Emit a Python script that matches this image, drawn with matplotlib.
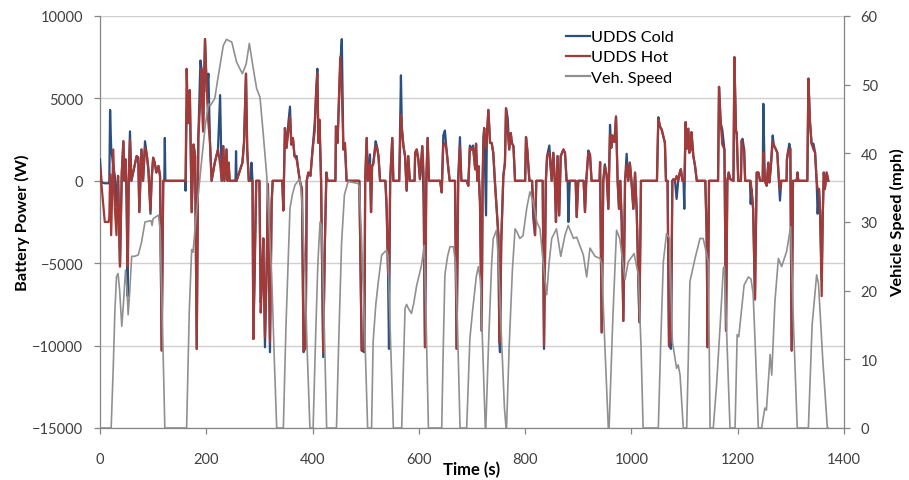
import matplotlib
matplotlib.use("Agg")
import matplotlib.pyplot as plt
from matplotlib.lines import Line2D

plt.rcParams['font.family'] = ['Lato', 'DejaVu Sans']

# Battery power samples: time (s), UDDS hot (W), UDDS cold (W)
power_time = [
    0, 3, 9, 16, 17.5, 19, 21, 25, 28, 31, 34, 37.6, 41, 44, 46, 48, 50, 52, 54, 56.4, 59,
    69, 72, 74, 78, 81, 84.7, 88, 91, 95, 97, 100, 103, 106, 110, 113, 116, 119, 121, 122, 123,
    160, 161, 163, 166, 169, 172.5, 176, 179, 182, 185, 189, 191, 194, 197.6, 201, 204, 207,
    210, 216, 222, 226, 229, 232, 234, 238, 240, 242, 244, 255, 256, 257, 268, 271, 274.7,
    277, 280, 284, 285, 287, 288.5, 291, 294, 300, 302.4, 305, 307.3, 310.4, 313.6, 316,
    319.8, 323, 325, 343, 345, 348, 351, 354.4, 357.5, 360, 363, 366, 370, 373, 376, 380,
    383, 387, 389, 392, 396, 400, 404, 407, 409, 411, 413, 416, 420, 423, 426, 428, 443,
    444, 447, 452, 455, 458, 461, 464, 488, 492.4, 497.4, 499, 501.8, 504, 508, 510, 512,
    514, 518.7, 521, 524, 527, 537, 539.4, 542, 543.8, 546, 550, 552, 563, 566.3, 568, 571,
    574, 577, 580, 583, 592, 593, 596, 599, 602, 606.5, 609, 611.5, 614, 616.5, 619, 640,
    643, 646, 649, 652, 655, 658, 668, 671, 674, 677.3, 680, 690, 693, 696, 699, 702, 706,
    707.6, 710, 712, 715, 718.2, 720, 721.4, 723, 726.4, 728, 730.8, 734, 737, 740, 743,
    746.5, 749.6, 751.5, 752.7, 755, 759, 762, 764, 767.2, 770, 773, 775, 778, 781, 800,
    801.6, 804, 808, 813, 815.4, 818.6, 821, 833, 835.5, 839, 841.3, 845.5, 850, 853, 856,
    858, 861, 864, 867, 872, 875, 878, 880, 881.3, 884, 895, 897, 900, 910, 912.6, 915,
    918.9, 922, 925, 940, 941, 944, 947, 950, 953.5, 956.6, 959.7, 962, 964, 968, 971, 974,
    976.6, 979, 981.7, 984.8, 988, 991, 994, 997, 1000, 1003.6, 1006.8, 1010, 1013, 1015,
    1018, 1048, 1050.6, 1053.7, 1057, 1060, 1063, 1065, 1068, 1070.7, 1074.5, 1077, 1079,
    1082, 1085, 1088, 1091, 1093, 1096, 1098, 1099.5, 1102, 1104, 1107, 1109, 1111.5, 1113,
    1116.5, 1119.7, 1123, 1139, 1141.5, 1143.4, 1146, 1163, 1164.8, 1168, 1171, 1175, 1178,
    1180.5, 1183, 1186, 1192, 1193.7, 1196.8, 1198, 1201, 1206, 1207.5, 1209, 1212, 1214,
    1223, 1224.4, 1226, 1229, 1232.5, 1235.7, 1239, 1242, 1247, 1248.2, 1251, 1254.5,
    1257.6, 1259.5, 1262, 1265.8, 1268, 1272, 1274.5, 1277, 1279.5, 1282, 1292, 1292.6,
    1295.3, 1297, 1299, 1301.5, 1304, 1311, 1312.5, 1314, 1331, 1333, 1336, 1339, 1342.5,
    1345.6, 1348.5, 1350.4, 1353, 1355, 1358, 1360, 1362, 1364, 1367.4, 1370.5,
]

hot_w = [
    800, -300, -2500, -2500, -2200, 400, -3300, 1900, -1700, -3300, 300, -5200, 500, 2400, 0, 1300, -1000, -5200, 0, 2500, 0,
    1500, 1400, -1900, 1900, 0, 2000, 1600, 700, -1800, 0, 1400, 1100, 500, 900, 300, -10300, 0, 0, 0, 0,
    0, 0, 6800, 3500, 5500, -1900, 2200, 1500, -10200, 2600, 5000, 6800, 3000, 8600, 5400, 3500, 2300,
    0, 1100, 1900, 1000, 0, 2100, 0, 1900, 0, 1100, 0, 0, 0, 0, 1100, 2300, 6500,
    1900, 0, 0, 0, 0, -9600, -5000, 0, 0, -8000, -6000, -3500, -9500, -5300, -200,
    -9800, -1300, 0, 0, -1800, 3200, 2000, 3000, 3900, 2200, 2600, 1500, 1300, 700, 0, -500,
    -10300, -10100, 0, 500, 300, 1900, 3000, 5600, 6500, 2300, 3700, 0, -10400, -4000, 500, 0, 0,
    3300, 2300, 7500, 5500, 1900, 2300, 0, 0, -10300, -10200, 0, 2600, 0, 1000, -1900, 900,
    1000, 2100, 2100, 1500, 0, 0, -1500, -5500, -5700, 0, 2600, 0, 0, 4000, 3200, 2100,
    1500, -600, 1500, 0, 0, 1700, 1900, 1300, 100, 2100, 500, -10100, 0, 2600, 0, 0,
    -700, 2200, 2300, 1900, 900, 0, 0, -10200, 0, 2100, 0, 0, -300, 2000, 1900, 2000, 700,
    2250, 0, 900, -1300, -9100, 0, 2000, 3200, 2000, 2700, 4300, 2300, 2300, 1700, 0,
    -1700, -3300, -9800, -9800, -3700, 300, 1100, 4400, 3000, 1900, 2900, 2300, 2100, 0, 0,
    2650, 1900, 0, 0, -1500, -3300, 0, 0, -10000, 0, 1500, 1700, 0, 1700, -100,
    -2500, 1500, -2100, 1500, 1900, 1700, 0, 0, 0, 0, 0, -2200, 0, 0, -1900, 0,
    1700, 1600, 0, 0, 1130, -9200, 0, 900, 300, -1700, 2800, 2000, 2750, 2350, 3900, 0,
    -1700, 0, -2500, -8500, 0, 1000, 0, 1100, 0, -1700, 500, -1900, -6000, -8500,
    0, 0, 3760, 3300, 3100, 2700, 2300, 0, 0, -10000, -9000, 0, 100,
    0, 300, 0, 500, 700, 0, 0, 0, 3560, 1940, 3160, 1700, 1900, 2950,
    1500, 900, 0, 0, -3100, -10100, 0, 0, 5700, 3500, 2200, 1900, -9100,
    0, 500, 100, 0, 7500, 2950, 2950, 0, 0, 2450, 2000, 1940, 0,
    0, 0, -500, -1700, -7200, 500, 500, 0, 0, 1700, 0, -300,
    1100, -100, 700, 2350, 2150, 1900, 1700, 300, -500, 0, 0, 1300,
    1900, 1900, 1940, -10300, 0, 0, 500, 0, 0, 6200, 3560, 2250, 1900,
    1700, 0, -500, -500, -1900, -7000, -2100, 500, -500, 500, 0,
]

cold_w = [
    1300, -100, -150, -150, -100, 4300, 2000, 900, 300, -1500, 300, -5200, 500, 2400, 0, 1300, -1000, -7000, 0, 3000, 0,
    1500, 1400, -1900, 1900, 0, 2400, 1600, 700, -2000, 0, 1400, 1100, 500, 900, 300, -10300, 0, 0, 2600, 0,
    0, -600, 4200, 3500, 5500, -1900, 2200, 1500, -10200, 2600, 7300, 6800, 3000, 8600, 5400, 6500, 2300,
    0, 1100, 1900, 5200, 0, 2100, 0, 1900, 0, 1100, 0, 0, 1800, 0, 1100, 2300, 6500,
    1900, 0, 0, 1100, 0, -9600, -5900, 0, 0, -7400, -6000, -3500, -10100, -5300, -200,
    -10400, -1300, 0, 0, -1800, 3200, 2000, 3500, 4500, 2200, 2600, 1500, 1500, 700, 0, -500,
    -10400, -10100, 0, 500, 300, 1900, 3500, 5600, 6800, 2300, 3700, 0, -10700, -4000, 500, 0, 0,
    3300, 2300, 7000, 8600, 1900, 2100, 0, 0, -10300, -10400, 0, 2600, 0, 1600, -1900, 900,
    1000, 2400, 2100, 1500, 0, 0, -1800, -5500, -10200, 0, 2600, 0, 0, 6400, 3200, 2100,
    1500, -600, 1500, 0, 0, 1700, 1900, 1300, 100, 2100, -1500, -10100, 0, 2600, 0, 0,
    -700, 2750, 3050, 1900, 900, 0, 0, -10200, 0, 2650, 0, 0, -300, 2140, 1900, 2140, 700,
    2250, 0, 900, -1300, -9100, 0, 2650, 3200, -2100, 2700, 4300, 2300, 2300, 1700, 0,
    -1700, -3300, -9800, -10400, -3700, 300, 1100, 4400, 3800, 1900, 2900, 2300, 2100, 0, 0,
    2650, 1900, 0, 0, -2300, -3300, 0, 0, -10200, 0, 1500, 2140, 0, 1700, -100,
    -2500, 1500, -2100, 1500, 1900, 1700, 0, 0, -2500, 0, 0, -2200, 0, 0, -1900, 0,
    1840, 1600, 0, 0, 1130, -9200, 0, 1000, 300, -1700, 3400, 2000, 2750, 2350, 3900, 0,
    -1700, 0, -2500, -8500, 0, 1640, 0, 1100, 0, -1700, 500, -1900, -6000, -8600,
    0, 0, 3860, 3300, 3100, 2700, 2300, 0, 0, -10000, -10200, 0, 100,
    0, -1100, 0, 500, 700, 0, 0, -1700, 3560, 1940, 3160, 1700, 1900, 2950,
    1500, 900, 0, 0, -3100, -10100, 0, 0, 5700, 3500, 3100, 1900, -9100,
    0, 500, 100, 0, 7500, 2950, 2950, 0, 0, 2450, 2550, 1940, 0,
    0, -1400, -500, -1700, -7200, 500, 500, 0, 0, 4670, 0, -300,
    1100, -100, 700, 2750, 2150, 1900, 1700, 300, -1200, 0, 0, 1300,
    1900, 2250, 1940, -10300, 0, 0, 500, 0, 0, 6200, 3560, 2250, 2250,
    1700, 0, -2000, -500, -1900, -6000, -2100, 500, -500, 500, 0,
]

# Vehicle speed trace: time (s), speed (mph)
speed_time = [
    0, 21, 25, 28, 31, 34, 37, 41, 44, 48, 51, 53, 56, 59.6, 65, 72, 78, 84.7, 96, 98, 100,
    110, 113, 117, 122, 163, 168, 172.5, 175, 180, 190, 198, 204, 208, 216, 222, 232, 238,
    248, 257, 262, 268, 275, 281, 285, 288.5, 294.8, 301, 307, 313.7, 323, 328, 332.5, 345,
    350, 357.5, 362, 367, 376, 380, 385.8, 390, 395, 401, 406, 410, 414, 417, 421, 426.5,
    445, 449, 454.6, 460, 467, 486, 488, 492, 498.7, 503.6, 511, 514, 519, 523.7, 530,
    539.5, 542, 547, 552, 567.7, 572, 574, 577, 581, 586, 590, 596, 605, 610, 613, 618, 643,
    646, 649, 654, 658.6, 665, 669, 672, 677.5, 690, 696, 701, 708, 712, 716, 720, 725,
    726, 731, 737, 740, 746, 750, 755, 761, 764, 765, 770, 776, 781, 785, 790, 796, 803,
    809, 815, 822, 828, 834, 840.6, 845, 850, 859, 867, 875, 881, 891, 897, 909.5, 915.8,
    922, 931.5, 941, 944, 950, 956.5, 958, 965, 972, 978, 988, 994, 1005, 1013, 1018, 1022,
    1050.6, 1055, 1060, 1066, 1072, 1077, 1082, 1085, 1088, 1091.5, 1097.6, 1104, 1107,
    1110, 1119.7, 1129, 1135, 1144.7, 1146, 1148, 1154, 1160, 1167, 1173, 1175, 1180,
    1185.5, 1195, 1199, 1202, 1207, 1212, 1220, 1225, 1229, 1234, 1238.8, 1245, 1251, 1254,
    1261, 1264, 1270, 1276.5, 1282.6, 1292, 1299.6, 1305, 1312, 1333, 1340, 1348.5, 1352,
    1360, 1368.7, 1370,
]

speed_mph = [
    0, 0, 9, 17, 22, 22.5, 20, 14.8, 18, 23, 20, 16.5, 20, 25, 25, 25.2, 27, 30, 30.2, 29.5, 30.5,
    31, 29, 17, 0, 0, 17, 26, 25.6, 30, 38, 44, 47.2, 47, 48, 51, 55.7, 56.6,
    56.2, 53.3, 52.5, 51.6, 53, 56, 54, 52.3, 49.4, 48.2, 43, 36.8, 22.3, 10, 0, 0,
    15, 32, 34, 35.4, 36.3, 33, 22.3, 11, 0, 0, 14, 24, 30, 29.5, 18, 0,
    0, 12, 27, 34, 35.9, 35.6, 35, 28, 12.6, 0, 0, 12.6, 18, 21.3, 25.2,
    25.9, 25, 12, 0, 0, 12, 17.4, 18, 17.3, 16.7, 18, 20.8, 23.7, 26.6, 18, 0, 0,
    12, 22.3, 25, 26.4, 26.4, 24, 17, 0, 0, 13, 17, 22, 23.5, 21.5, 12, 0,
    0, 12, 24, 27.6, 28.8, 24, 14, 3, 0, 0, 12, 23, 29, 28.5, 27.6, 28, 32,
    34.4, 33, 30, 29, 24, 19.4, 24, 27.6, 29, 25, 28.1, 29.5, 27.6, 27.8, 25.2, 22,
    26.2, 25, 24.7, 24, 12, 0, 0, 16, 28.8, 27.6, 21.6, 24.2, 25.4, 22.3, 12, 0,
    0, 12, 24.2, 28.3, 27.6, 12.6, 10.2, 8.7, 9.2, 7.7, 0, 0, 10,
    21.3, 24.7, 27.6, 27.6, 24.2, 15, 0, 0, 6, 15, 23.3, 23.5, 12,
    0, 0, 13.6, 13.3, 17, 20.8, 22, 21.7, 19.6, 10, 0, 0, 2.9, 2.6,
    10.7, 7.7, 18.4, 24.7, 23.5, 25.7, 29.3, 15, 0, 0, 15, 22.3, 21,
    10, 0, 0,
]

time_ticks = [0, 200, 400, 600, 800, 1000, 1200, 1400]
power_ticks = [-15000, -10000, -5000, 0, 5000, 10000]
speed_ticks = [0, 10, 20, 30, 40, 50, 60]

COLD = '#2b4f7e'
HOT = '#a33a37'
SPEED = '#909090'
AXIS = '#868686'
GRID = '#d0d0d0'
TICKTXT = '#404040'

fig = plt.figure(figsize=(9.09, 4.81), dpi=100)
ax = fig.add_axes([100 / 909, 52 / 481, 744 / 909, 412 / 481])

ax.plot(power_time, cold_w, color=COLD, lw=1.6, solid_joinstyle='round', zorder=3)
ax.plot(power_time, hot_w, color=HOT, lw=1.6, solid_joinstyle='round', zorder=4)

ax.set_xlim(0, 1400)
ax.set_ylim(-15000, 10000)
ax.set_xticks(time_ticks)
ax.set_yticks(power_ticks)
ax.grid(axis='y', color=GRID, lw=1.0)
ax.set_axisbelow(True)

for side in ('top', 'right'):
    ax.spines[side].set_visible(False)
for side in ('left', 'bottom'):
    ax.spines[side].set_color(AXIS)
    ax.spines[side].set_linewidth(0.9)

ax.tick_params(axis='both', colors=AXIS, labelcolor=TICKTXT, labelsize=10.5, length=4, width=0.9)
ax.tick_params(axis='y', pad=8)
ax.tick_params(axis='x', pad=13)

ax.set_xlabel('Time (s)', fontsize=12, fontweight='bold', labelpad=-3.5)
ax.set_ylabel('Battery Power (W)', fontsize=11.8, fontweight='bold', labelpad=1.5)

ax2 = ax.twinx()
ax2.plot(speed_time, speed_mph, color=SPEED, lw=1.2, zorder=5)
ax2.set_ylim(0, 60)
ax2.set_yticks(speed_ticks)
for side in ('top', 'left', 'bottom'):
    ax2.spines[side].set_visible(False)
ax2.spines['right'].set_color(AXIS)
ax2.spines['right'].set_linewidth(0.9)
ax2.tick_params(axis='y', colors=AXIS, labelcolor=TICKTXT, labelsize=10.5, length=4, width=0.9, pad=8)
ax2.set_ylabel('Vehicle Speed (mph)', fontsize=11.8, fontweight='bold', labelpad=9)

handles = [
    Line2D([], [], color=COLD, lw=1.6),
    Line2D([], [], color=HOT, lw=1.6),
    Line2D([], [], color=SPEED, lw=1.6),
]
ax2.legend(handles, ['UDDS Cold', 'UDDS Hot', 'Veh. Speed'],
           loc='upper left', bbox_to_anchor=((566 - 100) / 744, (429 - 31) / 412),
           frameon=False, fontsize=11.7, handlelength=1.45, handletextpad=0.1,
           labelspacing=0.35, borderpad=0, borderaxespad=0)

fig.savefig('out.png', dpi=100)
